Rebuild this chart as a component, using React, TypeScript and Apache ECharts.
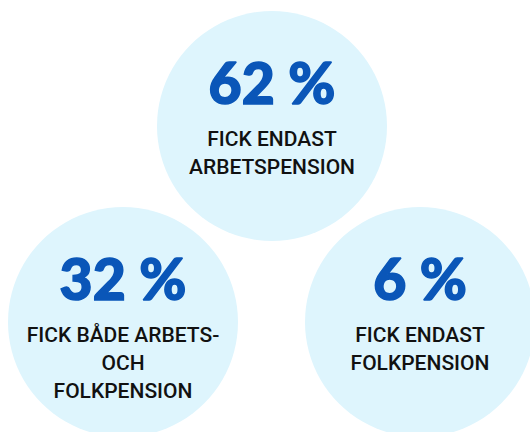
import React, { useEffect, useRef } from "react";
import * as echarts from "echarts";

const percentages = [62, 32, 6];
const descriptions = [
  ["FICK ENDAST", "ARBETSPENSION"],
  ["FICK BÅDE ARBETS-", "OCH", "FOLKPENSION"],
  ["FICK ENDAST", "FOLKPENSION"],
];
// layout: bubble centres in page pixels
const centersX = [272, 123, 420];
const centersY = [126, 322, 322];

export default function App() {
  const ref = useRef<HTMLDivElement>(null);
  useEffect(() => {
    document.body.style.margin = "0";
    const chart = echarts.init(ref.current!, null, { renderer: "svg" });
    const data = percentages.map((p, i) => ({
      value: [centersX[i], centersY[i]],
      pct: p,
      desc: descriptions[i],
    }));
    chart.setOption({
      animation: false,
      backgroundColor: "#ffffff",
      grid: { left: 0, right: 0, top: 0, bottom: 0 },
      xAxis: { type: "value", min: 0, max: 530, show: false },
      yAxis: { type: "value", min: 0, max: 432, inverse: true, show: false },
      series: [
        {
          type: "scatter",
          symbol: "circle",
          symbolSize: 230,
          itemStyle: { color: "#def5fd", opacity: 1 },
          emphasis: { disabled: true },
          data,
          label: {
            show: true,
            position: "inside",
            align: "center",
            verticalAlign: "top",
            offset: [0, -87],
            formatter: (params: any) => {
              const d = params.data;
              return [`{p|${d.pct} %}`, ...d.desc.map((t: string) => `{t|${t}}`)].join("\n");
            },
            rich: {
              p: {
                fontFamily: "Lato",
                fontWeight: 900,
                fontSize: 57,
                lineHeight: 86,
                color: "#0a56b8",
                textBorderColor: "#0a56b8",
                textBorderWidth: 1.5,
                align: "center",
              },
              t: {
                fontFamily: "Roboto",
                fontWeight: 500,
                fontSize: 21,
                lineHeight: 28,
                color: "#111111",
                align: "center",
              },
            },
          },
        },
      ],
    });
    return () => chart.dispose();
  }, []);
  return <div ref={ref} style={{ width: 530, height: 432 }} />;
}
